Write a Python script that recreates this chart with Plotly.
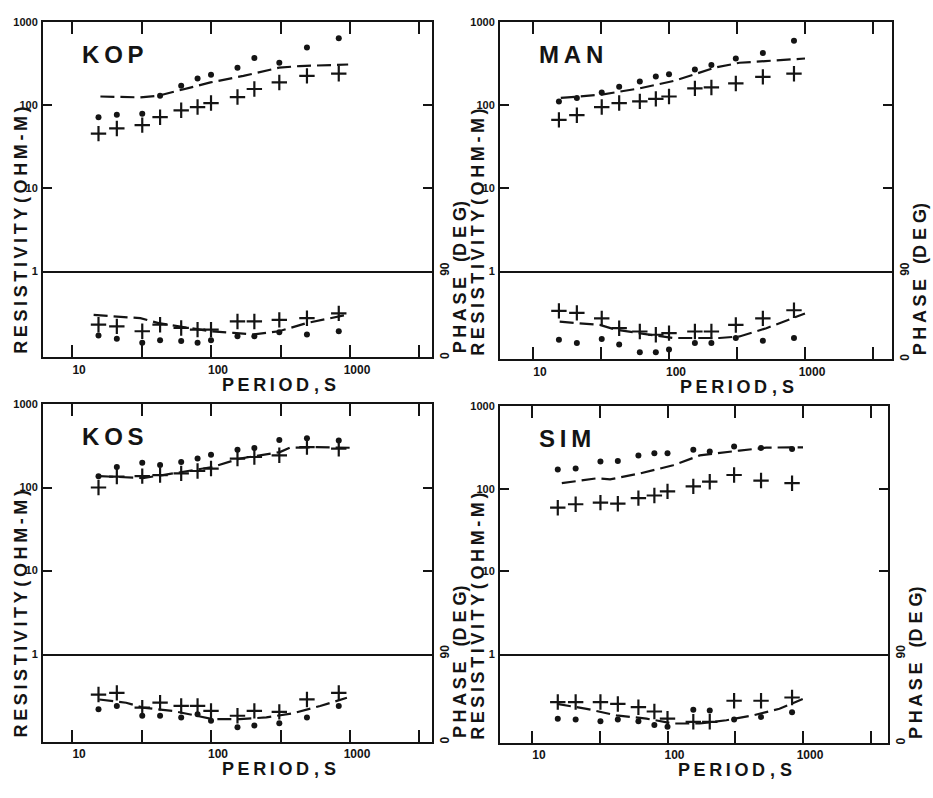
import plotly.graph_objects as go

W, H = 933, 798
INK = "#141414"
FONT = "Liberation Sans"
TS = "\u2009"  # thin space used to letter-space the bold captions

# Sounding periods (s), shared by the four stations
period = [15.5, 21, 32, 43, 61, 80, 100, 155, 205, 310, 490, 830]

stations = ["KOP", "MAN", "KOS", "SIM"]

# Apparent resistivity (ohm-m): dots and crosses
kop_rho_dot = [71, 76, 78, 129, 170, 207, 231, 280, 367, 321, 491, 635]
kop_rho_cross = [45, 52, 57, 71, 86, 94, 105, 124, 155, 186, 223, 237]
man_rho_dot = [110, 121, 141, 165, 191, 219, 233, 267, 301, 361, 421, 590]
man_rho_cross = [66, 75, 94, 105, 110, 118, 126, 158, 162, 181, 217, 237]
kos_rho_dot = [137, 177, 198, 186, 203, 223, 248, 285, 298, 374, 392, 367]
kos_rho_cross = [100, 135, 137, 141, 148, 158, 169, 223, 233, 244, 306, 293]
sim_rho_dot = [171, 176, 215, 217, 254, 271, 271, 297, 283, 325, 313, 305]
sim_rho_cross = [59, 65, 68, 66, 77, 83, 93, 107, 122, 147, 126, 117]

# Phase (degrees): dots and crosses
kop_ph_dot = [22.8, 19.4, 15.3, 17.7, 17.0, 15.3, 17.7, 22.0, 22.0, 26.2, 23.8, 27.2]
kop_ph_cross = [34.0, 32.3, 27.2, 34.0, 30.6, 28.9, 28.9, 37.4, 37.4, 39.0, 40.8, 45.8]
man_ph_dot = [20.0, 16.7, 20.7, 15.0, 7.3, 7.3, 10.0, 16.7, 16.7, 21.7, 19.0, 21.7]
man_ph_cross = [49.3, 47.3, 41.7, 31.7, 28.3, 25.0, 26.7, 28.3, 28.3, 35.0, 41.7, 50.0]
kos_ph_dot = [33.3, 36.7, 26.7, 26.7, 25.0, 28.3, 21.7, 15.0, 16.7, 19.0, 25.0, 36.7]
kos_ph_cross = [48.3, 50.0, 35.0, 40.0, 36.7, 36.7, 31.7, 26.7, 31.7, 30.7, 43.3, 50.0]
sim_ph_dot = [24.5, 23.5, 21.8, 23.5, 21.8, 18.0, 16.4, 33.4, 32.7, 23.5, 26.2, 31.0]
sim_ph_cross = [41.2, 41.2, 41.2, 39.3, 36.0, 31.7, 24.5, 21.3, 21.3, 42.5, 42.5, 45.8]

# Model response curves (dashed)
kop_model_rho_t = [16, 31, 42, 61, 99, 171, 309, 435, 970]
kop_model_rho = [126, 123, 129, 150, 186, 223, 280, 293, 306]
kop_model_ph_t = [14.3, 21, 31, 42, 61, 99, 145, 201, 309, 486, 942]
kop_model_ph = [44.2, 42.5, 40.8, 35.7, 32.3, 27.2, 25.5, 23.8, 27.2, 35.7, 44.2]

man_model_rho_t = [16, 32, 61, 110, 217, 330, 510, 1000]
man_model_rho = [121, 133, 158, 195, 280, 321, 336, 361]
man_model_ph_t = [15.7, 31, 41, 61, 85, 107, 235, 330, 520, 1000]
man_model_ph = [38.3, 35.0, 30.0, 26.7, 23.3, 21.7, 21.7, 23.3, 31.7, 46.7]

kos_model_rho_t = [15.7, 23.8, 32.3, 45, 63, 103, 161, 313, 369, 574, 1000]
kos_model_rho = [137, 133, 130, 141, 155, 177, 223, 267, 301, 306, 301]
kos_model_ph_t = [15.7, 24.5, 32.3, 53, 103, 161, 250, 390, 610, 950]
kos_model_ph = [43.3, 40.0, 35.0, 31.7, 23.3, 23.3, 25.0, 29.3, 36.7, 45.0]

sim_model_rho_t = [16.6, 30, 37.7, 63, 110, 173, 339, 535, 1000]
sim_model_rho = [117, 134, 130, 154, 193, 254, 291, 316, 319]
sim_model_ph_t = [15.3, 25.3, 42, 70, 110, 173, 272, 427, 670, 995]
sim_model_ph = [39.3, 34.4, 27.8, 24.5, 19.6, 19.6, 22.9, 27.8, 34.4, 44.2]

rho_dot = [kop_rho_dot, man_rho_dot, kos_rho_dot, sim_rho_dot]
rho_cross = [kop_rho_cross, man_rho_cross, kos_rho_cross, sim_rho_cross]
ph_dot = [kop_ph_dot, man_ph_dot, kos_ph_dot, sim_ph_dot]
ph_cross = [kop_ph_cross, man_ph_cross, kos_ph_cross, sim_ph_cross]
model_rho_t = [kop_model_rho_t, man_model_rho_t, kos_model_rho_t, sim_model_rho_t]
model_rho = [kop_model_rho, man_model_rho, kos_model_rho, sim_model_rho]
model_ph_t = [kop_model_ph_t, man_model_ph_t, kos_model_ph_t, sim_model_ph_t]
model_ph = [kop_model_ph, man_model_ph, kos_model_ph, sim_model_ph]

# Axis ticks
x_tickvals = [10, 31.62, 100, 316.2, 1000, 3162]
x_ticktext = ["10", "", "100", "", "1000", ""]
rho_tickvals = [1, 10, 100, 1000]
rho_ticktext = ["1", "10", "100", "1000"]
ph_tickvals = [0, 90]
ph_ticktext = ["0", "90"]

# Panel frames in pixels: left, right, top, split (rho=1 / phase=90), bottom, x log-range
panels = [
    (43, 432, 13, 267, 355, (0.791, 3.59)),
    (500, 892, 13, 267, 357, (0.757, 3.64)),
    (43, 432, 403, 657, 747, (0.791, 3.59)),
    (500, 888, 405, 657, 748, (0.764, 3.627)),
]


def px(x):
    return x / W


def py(y):
    return 1 - y / H


def spaced(s):
    return TS.join(s)


def bold(size):
    return dict(size=size, family=FONT, color=INK, weight="bold")


fig = go.Figure()
layout = dict(
    width=W, height=H, margin=dict(l=0, r=0, t=0, b=0),
    paper_bgcolor="white", plot_bgcolor="white", showlegend=False,
    font=bold(12),
)
annotations = []

dot_marker = dict(symbol="circle", size=6, color=INK)
cross_marker = dict(symbol="cross-thin", size=11, line=dict(width=2.2, color=INK))
model_line = dict(color=INK, width=2.2, dash="14px,6px")

phase_caption = spaced("PHASE") + "\u00a0\u00a0\u00a0(D E G)"
rho_caption = spaced("RESISTIVITY") + " " + spaced("(OHM-M)")
period_caption = spaced("PERIOD") + " , S"

for i, (l, r, t, m, b, xr) in enumerate(panels):
    ra, pa = 2 * i + 1, 2 * i + 2
    rx, ry = f"x{ra}", f"y{ra}"
    phx, phy = f"x{pa}", f"y{pa}"
    kx = lambda n: "xaxis" if n == 1 else f"xaxis{n}"
    ky = lambda n: "yaxis" if n == 1 else f"yaxis{n}"

    common_x = dict(type="log", range=list(xr), domain=[px(l), px(r)],
                    showgrid=False, zeroline=False, showline=True,
                    linecolor=INK, linewidth=2,
                    tickvals=x_tickvals, ticktext=x_ticktext,
                    ticks="inside", ticklen=12, tickwidth=2, tickcolor=INK)
    # resistivity frame: top edge with ticks, bottom edge is the split line
    layout[kx(ra)] = dict(common_x, anchor=ry, side="top", mirror=True,
                          showticklabels=False)
    # phase frame: bottom edge with ticks and period labels
    layout[kx(pa)] = dict(common_x, anchor=phy, side="bottom", mirror=False,
                          ticklabelshift=7, tickfont=bold(12))
    layout[ky(ra)] = dict(type="log", range=[0, 3], domain=[py(m), py(t)],
                          anchor=rx, showgrid=False, zeroline=False,
                          showline=True, linecolor=INK, linewidth=2,
                          mirror="ticks", ticks="inside", ticklen=9,
                          tickwidth=2, tickcolor=INK,
                          tickvals=rho_tickvals, ticktext=rho_ticktext,
                          tickfont=bold(11), ticklabelstandoff=1)
    layout[ky(pa)] = dict(range=[0, 90], domain=[py(b), py(m)], anchor=phx,
                          side="right", showgrid=False, zeroline=False,
                          showline=True, linecolor=INK, linewidth=2,
                          mirror=True, ticks="", tickvals=ph_tickvals,
                          ticktext=ph_ticktext, tickangle=-90,
                          tickfont=bold(12), ticklabelstandoff=1)

    fig.add_trace(go.Scatter(x=period, y=rho_dot[i], mode="markers",
                             marker=dot_marker, xaxis=rx, yaxis=ry))
    fig.add_trace(go.Scatter(x=period, y=rho_cross[i], mode="markers",
                             marker=cross_marker, xaxis=rx, yaxis=ry))
    fig.add_trace(go.Scatter(x=model_rho_t[i], y=model_rho[i], mode="lines",
                             line=model_line, xaxis=rx, yaxis=ry))
    fig.add_trace(go.Scatter(x=period, y=ph_dot[i], mode="markers",
                             marker=dot_marker, xaxis=phx, yaxis=phy))
    fig.add_trace(go.Scatter(x=period, y=ph_cross[i], mode="markers",
                             marker=cross_marker, xaxis=phx, yaxis=phy))
    fig.add_trace(go.Scatter(x=model_ph_t[i], y=model_ph[i], mode="lines",
                             line=model_line, xaxis=phx, yaxis=phy))

    # station name
    annotations.append(dict(text=spaced(stations[i]), x=px(l + 37), y=py(t + 33),
                            xref="paper", yref="paper", xanchor="left",
                            yanchor="middle", showarrow=False, font=bold(24)))
    # period caption
    annotations.append(dict(text=period_caption, x=px((l + r) / 2 + 41),
                            y=py(b + 28), xref="paper", yref="paper",
                            xanchor="center", yanchor="middle", showarrow=False,
                            font=bold(18)))
    # resistivity caption, left side
    annotations.append(dict(text=rho_caption, x=px(l - 22), y=py((t + 84 + b) / 2),
                            xref="paper", yref="paper", xanchor="center",
                            yanchor="middle", textangle=-90, showarrow=False,
                            font=bold(18)))
    # phase caption, right side, bottom end level with the frame bottom
    annotations.append(dict(text=phase_caption, x=px(r + 28), y=py(b - 2),
                            xref="paper", yref="paper", xanchor="center",
                            yanchor="bottom", textangle=-90, showarrow=False,
                            font=bold(18)))

layout["annotations"] = annotations
fig.update_layout(**layout)
fig.write_html("out.html")
